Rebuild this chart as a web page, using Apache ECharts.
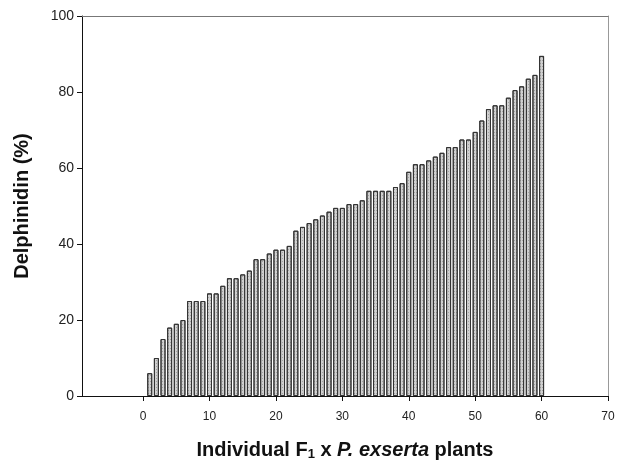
<!DOCTYPE html>
<html><head><meta charset="utf-8">
<script src="https://cdn.jsdelivr.net/npm/echarts@6/dist/echarts.min.js"></script>
<style>html,body{margin:0;padding:0;background:#fff}#c{width:618px;height:460px}</style>
</head><body><div id="c"></div>
<script>
const plants = [1,2,3,4,5,6,7,8,9,10,11,12,13,14,15,16,17,18,19,20,21,22,23,24,25,26,27,28,29,30,31,32,33,34,35,36,37,38,39,40,41,42,43,44,45,46,47,48,49,50,51,52,53,54,55,56,57,58,59,60];
const delphinidin = [6,10,15,18,19,20,25,25,25,27,27,29,31,31,32,33,36,36,37.5,38.5,38.5,39.5,43.5,44.5,45.5,46.5,47.5,48.5,49.5,49.5,50.5,50.5,51.5,54,54,54,54,55,56,59,61,61,62,63,64,65.5,65.5,67.5,67.5,69.5,72.5,75.5,76.5,76.5,78.5,80.5,81.5,83.5,84.5,89.5];
const xTicks = [0,10,20,30,40,50,60,70];
const yTicks = [0,20,40,60,80,100];

const chart = echarts.init(document.getElementById('c'));
const font = 'Liberation Sans, Arial, sans-serif';
chart.setOption({
  animation:false,
  grid:{left:82,right:10,top:16,bottom:64,containLabel:false,outerBoundsMode:'none'},
  xAxis:[{
    type:'value', min:-9.2, max:70, position:'bottom',
    axisLine:{show:true,onZero:false,lineStyle:{color:'#111',width:1}},
    axisTick:{show:true,length:5,customValues:xTicks,lineStyle:{color:'#111'}},
    axisLabel:{customValues:xTicks,color:'#222',fontSize:12,fontFamily:font,margin:15},
    splitLine:{show:false},
    name:'{b|Individual F}{s|1}{b| x }{i|P. exserta}{b| plants}',
    nameLocation:'middle', nameGap:43,
    nameTextStyle:{rich:{
      b:{fontSize:20,fontWeight:'bold',fontFamily:font,color:'#111',lineHeight:22},
      i:{fontSize:20,fontWeight:'bold',fontStyle:'italic',fontFamily:font,color:'#111',lineHeight:22},
      s:{fontSize:13,fontWeight:'bold',fontFamily:font,color:'#111',lineHeight:22,verticalAlign:'bottom',padding:[9,0,0,0]}
    }}
  },{
    type:'value', min:-9.2, max:70, position:'top',
    axisLine:{show:true,onZero:false,lineStyle:{color:'#777',width:1}},
    axisTick:{show:false},axisLabel:{show:false},splitLine:{show:false}
  }],
  yAxis:[{
    type:'value', min:0, max:100, interval:20, position:'left',
    axisLine:{show:true,onZero:false,lineStyle:{color:'#111',width:1}},
    axisTick:{show:true,length:5,lineStyle:{color:'#111'}},
    axisLabel:{color:'#222',fontSize:14,fontFamily:font,margin:8},
    splitLine:{show:false},
    name:'Delphinidin (%)', nameLocation:'middle', nameGap:50,
    nameTextStyle:{fontSize:20,fontWeight:'bold',fontFamily:font,color:'#111'}
  },{
    type:'value', min:0, max:100, interval:20, position:'right',
    axisLine:{show:true,onZero:false,lineStyle:{color:'#999',width:1}},
    axisTick:{show:false},axisLabel:{show:false},splitLine:{show:false}
  }],
  series:[{
    type:'bar', xAxisIndex:0, yAxisIndex:0, barWidth:5,
    data: plants.map((p,i)=>[p,delphinidin[i]]),
    itemStyle:{color:'#d0d0d0',borderColor:'#333',borderWidth:1,
      decal:{symbol:'rect',symbolSize:0.7,color:'rgba(40,40,40,0.75)',dashArrayX:[1,1],dashArrayY:[1,2],rotation:0}}
  }]
});
</script></body></html>
